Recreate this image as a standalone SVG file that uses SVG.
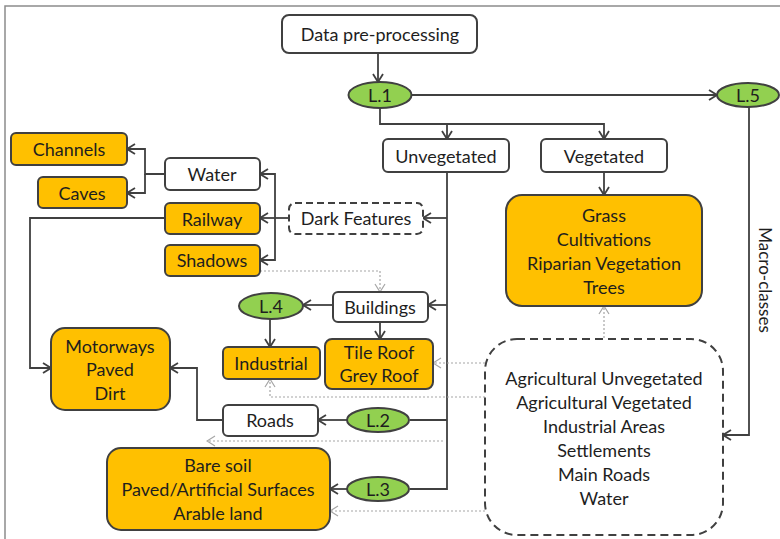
<svg xmlns="http://www.w3.org/2000/svg" width="780" height="539" viewBox="0 0 780 539">
<style>
.box{fill:#fff;stroke:#404040;stroke-width:2}
.org{fill:#FFC000;stroke:#404040;stroke-width:2}
.ell{fill:#92D050;stroke:#404040;stroke-width:2}
.dash{fill:#fff;stroke:#404040;stroke-width:2;stroke-dasharray:8 5}
.t{font-family:Lato,"Liberation Sans",sans-serif;font-size:18px;fill:#1e1e1e;text-anchor:middle;dominant-baseline:central}
.c{fill:none;stroke:#404040;stroke-width:1.8;marker-end:url(#a)}
.cn{fill:none;stroke:#404040;stroke-width:1.8}
.d{fill:none;stroke:#a6a6a6;stroke-width:1.2;stroke-dasharray:2 2;marker-end:url(#g)}
</style>
<defs>
<marker id="a" viewBox="0 0 10 12" refX="9" refY="6" markerWidth="10" markerHeight="12" markerUnits="userSpaceOnUse" orient="auto">
<path d="M1,1 L9,6 L1,11" fill="none" stroke="#404040" stroke-width="1.8"/>
</marker>
<marker id="g" viewBox="0 0 10 12" refX="9" refY="6" markerWidth="10" markerHeight="12" markerUnits="userSpaceOnUse" orient="auto">
<path d="M1,1 L9,6 L1,11" fill="none" stroke="#a6a6a6" stroke-width="1.2"/>
</marker>
</defs>
<rect width="780" height="539" fill="#fff"/>
<path d="M5,539 V6 H780" fill="none" stroke="#8c8c8c" stroke-width="1.5"/>

<g id="connectors">
<path class="c" d="M378,53 V82"/>
<path class="c" d="M411,95 H717"/>
<path class="c" d="M380,108 V124 H447 V139"/>
<path class="c" d="M447,124 H604 V139"/>
<path class="c" d="M604,172 V195"/>
<path class="cn" d="M447,172 V489 H410"/>
<path class="cn" d="M447,420 H410"/>
<path class="c" d="M447,218 H423"/>
<path class="c" d="M447,305 H428"/>
<path class="c" d="M347,420 H318"/>
<path class="c" d="M347,489 H330"/>
<path class="c" d="M223,420 H197 V368 H170"/>
<path class="c" d="M165,218 H30 V368 H51"/>
<path class="c" d="M289,218 H260"/>
<path class="c" d="M275,218 V174 H260"/>
<path class="c" d="M275,218 V260 H260"/>
<path class="c" d="M165,174 H145 V149 H127"/>
<path class="c" d="M145,174 V193 H127"/>
<path class="c" d="M333,305 H303"/>
<path class="c" d="M270,319 V347"/>
<path class="c" d="M380,322 V339"/>
<path class="c" d="M749,107 V435 H723"/>
<path class="d" d="M260,271 H380 V292"/>
<path class="d" d="M485,363 H433"/>
<path class="d" d="M485,397 H270 V379"/>
<path class="d" d="M443,441 H207"/>
<path class="d" d="M485,511 H330"/>
<path class="d" d="M604,338 V306"/>
</g>

<g id="data"><rect class="box" x="282" y="15" width="195" height="38" rx="7"/><text class="t" x="380" y="34">Data pre-processing</text></g>
<g id="l1"><ellipse class="ell" cx="380" cy="95" rx="31.5" ry="13"/><text class="t" x="380" y="95">L.1</text></g>
<g id="l5"><ellipse class="ell" cx="748" cy="95" rx="31" ry="12"/><text class="t" x="748" y="95">L.5</text></g>
<g id="unveg"><rect class="box" x="383" y="139" width="126" height="33" rx="5"/><text class="t" x="446" y="156">Unvegetated</text></g>
<g id="veg"><rect class="box" x="541" y="139" width="126" height="33" rx="5"/><text class="t" x="604" y="156">Vegetated</text></g>
<g id="grass"><rect class="org" x="506" y="195" width="196" height="111" rx="16"/>
<text class="t" x="604" y="215">Grass</text><text class="t" x="604" y="239">Cultivations</text><text class="t" x="604" y="263">Riparian Vegetation</text><text class="t" x="604" y="287">Trees</text></g>
<g id="dark"><rect class="dash" x="289" y="203" width="134" height="31" rx="6" style="stroke-dasharray:7 4"/><text class="t" x="356" y="218">Dark Features</text></g>
<g id="channels"><rect class="org" x="11" y="133" width="116" height="32" rx="5"/><text class="t" x="69" y="149">Channels</text></g>
<g id="caves"><rect class="org" x="38" y="177" width="89" height="31" rx="5"/><text class="t" x="82" y="193">Caves</text></g>
<g id="water"><rect class="box" x="165" y="158" width="95" height="32" rx="5"/><text class="t" x="212" y="174">Water</text></g>
<g id="railway"><rect class="org" x="165" y="203" width="95" height="31" rx="5"/><text class="t" x="212" y="219">Railway</text></g>
<g id="shadows"><rect class="org" x="165" y="245" width="95" height="31" rx="5"/><text class="t" x="212" y="260">Shadows</text></g>
<g id="buildings"><rect class="box" x="333" y="292" width="95" height="30" rx="5"/><text class="t" x="380" y="307">Buildings</text></g>
<g id="l4"><ellipse class="ell" cx="271" cy="306" rx="32" ry="13"/><text class="t" x="271" y="306">L.4</text></g>
<g id="industrial"><rect class="org" x="223" y="347" width="97" height="32" rx="5"/><text class="t" x="271" y="363">Industrial</text></g>
<g id="tile"><rect class="org" x="325" y="339" width="108" height="50" rx="7"/><text class="t" x="379" y="352">Tile Roof</text><text class="t" x="379" y="375">Grey Roof</text></g>
<g id="motorways"><rect class="org" x="51" y="328" width="119" height="82" rx="14"/><text class="t" x="110" y="346">Motorways</text><text class="t" x="110" y="369">Paved</text><text class="t" x="110" y="393">Dirt</text></g>
<g id="roads"><rect class="box" x="223" y="405" width="95" height="31" rx="5"/><text class="t" x="270" y="420">Roads</text></g>
<g id="l2"><ellipse class="ell" cx="378" cy="420" rx="31" ry="12"/><text class="t" x="378" y="420">L.2</text></g>
<g id="l3"><ellipse class="ell" cx="378" cy="489" rx="31" ry="12"/><text class="t" x="378" y="489">L.3</text></g>
<g id="bare"><rect class="org" x="107" y="448" width="223" height="82" rx="14"/><text class="t" x="218" y="465">Bare soil</text><text class="t" x="218" y="489">Paved/Artificial Surfaces</text><text class="t" x="218" y="513">Arable land</text></g>
<g id="macro"><rect class="dash" x="485" y="339" width="238" height="196" rx="32"/>
<text class="t" x="604" y="378">Agricultural Unvegetated</text><text class="t" x="604" y="402">Agricultural Vegetated</text><text class="t" x="604" y="426">Industrial Areas</text><text class="t" x="604" y="450">Settlements</text><text class="t" x="604" y="474">Main Roads</text><text class="t" x="604" y="498">Water</text></g>
<g id="macrolabel"><text class="t" x="765" y="280" transform="rotate(90 765 280)" style="font-size:17px">Macro-classes</text></g>
</svg>
